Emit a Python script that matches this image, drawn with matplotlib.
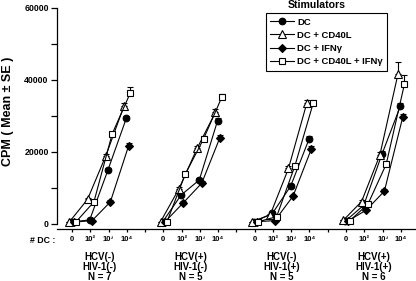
import matplotlib.pyplot as plt
import numpy as np

plt.rcParams['font.family'] = ['Liberation Sans', 'DejaVu Sans']
plt.rcParams['font.weight'] = 'bold'

groups = [("HCV(-)", "HIV-1(-)", "N = 7"),
          ("HCV(+)", "HIV-1(-)", "N = 5"),
          ("HCV(-)", "HIV-1(+)", "N = 5"),
          ("HCV(+)", "HIV-1(+)", "N = 6")]
doses = ["0", "10²", "10³", "10⁴"]

# CPM per group: dose 0, 10^2, 10^3, 10^4
dc = [400, 1000, 14900, 29200, 500, 7900, 12100, 28600,
      500, 2800, 10400, 23400, 700, 5100, 19300, 32600]
dc_cd40l = [400, 6700, 18800, 32700, 500, 9600, 20900, 30900,
            500, 2400, 15300, 33400, 900, 6100, 19000, 41700]
dc_ifn = [400, 800, 6000, 21600, 500, 5800, 11200, 23900,
          500, 800, 7600, 20700, 700, 3700, 9000, 29500]
dc_both = [350, 6000, 24900, 36400, 500, 13700, 23500, 35100,
           500, 1900, 16000, 33400, 750, 5400, 16500, 38800]

# SE (upper only)
se_dc = [0, 0, 500, 800, 0, 500, 500, 800, 0, 300, 500, 800, 0, 400, 800, 1000]
se_cd40l = [0, 400, 600, 800, 0, 500, 600, 900, 0, 300, 600, 1000, 0, 500, 800, 3200]
se_ifn = [0, 0, 400, 800, 0, 400, 500, 800, 0, 0, 400, 800, 0, 400, 500, 1000]
se_both = [0, 400, 600, 1500, 0, 600, 700, 900, 0, 300, 600, 900, 0, 400, 800, 2500]

series = [
    ("DC", dc, se_dc, "o", "black", 4.8, -0.03),
    ("DC + CD40L", dc_cd40l, se_cd40l, "^", "white", 5.3, -0.15),
    ("DC + IFNγ", dc_ifn, se_ifn, "D", "black", 4.2, 0.1),
    ("DC + CD40L + IFNγ", dc_both, se_both, "s", "white", 4.6, 0.2),
]

fig = plt.figure(figsize=(4.16, 2.81), dpi=100)
ax = fig.add_axes([57 / 416, 51.7 / 281, 1 - 57 / 416, (229.3 - 7.7) / 281])

for label, vals, se, mk, fc, ms, off in series:
    vals = np.array(vals, dtype=float).reshape(4, 4)
    se = np.array(se, dtype=float).reshape(4, 4)
    for g in range(4):
        x = g * 5 + np.arange(4) + off
        ax.errorbar(x, vals[g], yerr=[np.zeros(4), se[g]], fmt="none",
                    ecolor="black", elinewidth=0.8, capsize=2, capthick=0.8,
                    zorder=1, clip_on=False)
        ax.plot(x, vals[g], marker=mk, color="black", mfc=fc, mec="black",
                ms=ms, mew=0.8, lw=0.8, zorder=3, clip_on=False,
                label=label if g == 0 else None)

ax.set_xlim(-0.82, 18.83)
ax.set_ylim(-1612, 60000)

ax.spines["top"].set_visible(False)
ax.spines["right"].set_visible(False)
ax.spines["left"].set_bounds(0, 60000)
for s in ("left", "bottom"):
    ax.spines[s].set_linewidth(0.9)

ax.set_yticks(np.arange(0, 60001, 10000))
ax.set_yticklabels(["0", "", "20000", "", "40000", "", "60000"],
                   fontsize=6.3, fontweight="bold")
ax.tick_params(axis="y", direction="out", length=4, width=0.9, pad=2)

xt = np.arange(0, 19)
ax.set_xticks(xt)
ax.set_xticklabels([doses[i % 5] if i % 5 < 4 else "" for i in xt],
                   fontsize=5.5, fontweight="bold")
ax.tick_params(axis="x", direction="out", length=2.5, width=0.9, pad=2.5)

fig.text(8.5 / 416, 1 - 111.5 / 281, "CPM ( Mean ± SE )", rotation=90,
         ha="center", va="center", fontsize=9.0, fontweight="bold")
fig.text(55 / 416, 1 - 240.5 / 281, "# DC :", ha="right", va="center",
         fontsize=6.3, fontweight="bold")

for g, lines in enumerate(groups):
    xc = ax.transData.transform((g * 5 + 1.5, 0))[0] / fig.bbox.width
    for j, txt in enumerate(lines):
        fig.text(xc, 1 - (257.5 + 10 * j) / 281, txt, ha="center", va="center",
                 fontsize=7, fontweight="bold")

fig.text(317 / 416, 1 - 5.5 / 281, "Stimulators", ha="center", va="center",
         fontsize=7.6, fontweight="bold")

leg = ax.legend(loc="upper left", bbox_to_anchor=(265.7 / 416, 1 - 13.3 / 281),
                bbox_transform=fig.transFigure, fontsize=6.8, frameon=True,
                fancybox=False, edgecolor="black", framealpha=1,
                handlelength=2.5, handletextpad=0.4, labelspacing=0.45,
                borderpad=0.45, borderaxespad=0)
leg.get_frame().set_linewidth(0.8)
for t in leg.get_texts():
    t.set_fontweight("bold")

fig.savefig("out.png", dpi=100)
